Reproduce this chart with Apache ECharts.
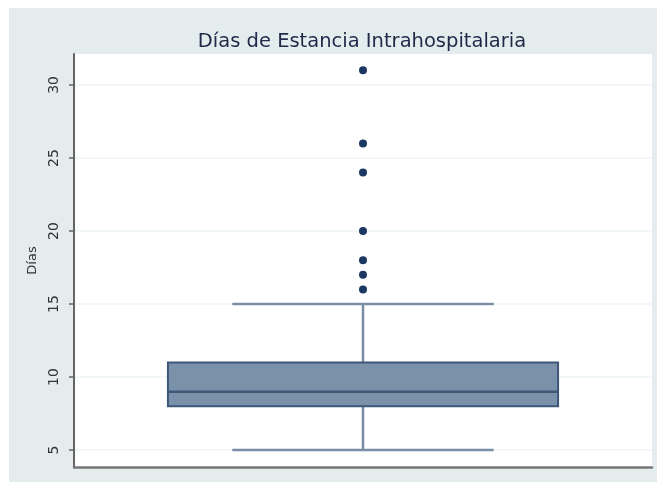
<!DOCTYPE html>
<html>
<head>
<meta charset="utf-8">
<script src="https://cdn.jsdelivr.net/npm/echarts@6/dist/echarts.min.js"></script>
<style>
  html, body { margin: 0; padding: 0; background: #fff; }
  #main { width: 657px; height: 482px; }
</style>
</head>
<body>
<div id="main"></div>
<script>
const categories = ["Días"];
const whiskerLow = [5];
const q1 = [8];
const median = [9];
const q3 = [11];
const whiskerHigh = [15];
const outliers = [31, 26, 24, 20, 18, 17, 16];
const yTicks = [5, 10, 15, 20, 25, 30];

const boxFill = "#7b91a9";
const boxLine = "#3d5778";
const whiskerColor = "#7a8fa7";
const dotColor = "#1a3862";

const boxData = categories.map((c, i) => [i, whiskerLow[i], q1[i], median[i], q3[i], whiskerHigh[i]]);
const outlierData = outliers.map((v) => [0, v]);

var chartDom = document.getElementById("main");
var myChart = echarts.init(chartDom);

const option = {
  backgroundColor: "#ffffff",
  animation: false,
  graphic: [
    {
      type: "rect",
      left: 9,
      top: 8,
      shape: { width: 648, height: 474 },
      style: { fill: "#e4ecee" },
      z: -10,
    },
  ],
  title: {
    text: "Días de Estancia Intrahospitalaria",
    left: 357,
    textAlign: "center",
    top: 27,
    textStyle: {
      fontFamily: "DejaVu Sans",
      fontSize: 19.5,
      fontWeight: "normal",
      color: "#1e2a48",
    },
  },
  grid: {
    left: 74,
    top: 54,
    right: 5,
    bottom: 15,
    show: true,
    backgroundColor: "#ffffff",
    borderWidth: 0,
  },
  xAxis: {
    type: "category",
    data: categories,
    axisLine: { show: true, lineStyle: { color: "#777777", width: 2.5 } },
    axisTick: { show: false },
    axisLabel: { show: false },
    splitLine: { show: false },
  },
  yAxis: {
    type: "value",
    min: 3.84,
    max: 32.12,
    name: "Días",
    nameLocation: "middle",
    nameGap: 35,
    nameTextStyle: { fontFamily: "DejaVu Sans", fontSize: 13, color: "#333" },
    axisLine: { show: true, lineStyle: { color: "#666666", width: 2 } },
    axisTick: { show: true, length: 5, customValues: yTicks, lineStyle: { color: "#666666", width: 1.5 } },
    axisLabel: {
      customValues: yTicks,
      rotate: 90,
      margin: 13,
      fontFamily: "DejaVu Sans",
      fontSize: 14,
      color: "#333333",
    },
    splitLine: { show: true, lineStyle: { color: "#eef4f4", width: 1.5 } },
  },
  series: [
    {
      type: "custom",
      data: boxData,
      renderItem: function (params, api) {
        const x = api.value(0);
        const band = api.size([1, 0])[0];
        const half = band * 0.3375;
        const capHalf = half * 0.67;
        const c = api.coord([x, api.value(1)]);
        const pLow = c;
        const pQ1 = api.coord([x, api.value(2)]);
        const pMed = api.coord([x, api.value(3)]);
        const pQ3 = api.coord([x, api.value(4)]);
        const pHigh = api.coord([x, api.value(5)]);
        const cx = c[0];
        const wStyle = { stroke: whiskerColor, lineWidth: 2.5 };
        return {
          type: "group",
          children: [
            { type: "line", shape: { x1: cx, y1: pLow[1], x2: cx, y2: pQ1[1] }, style: wStyle },
            { type: "line", shape: { x1: cx, y1: pQ3[1], x2: cx, y2: pHigh[1] }, style: wStyle },
            { type: "line", shape: { x1: cx - capHalf, y1: pLow[1], x2: cx + capHalf, y2: pLow[1] }, style: wStyle },
            { type: "line", shape: { x1: cx - capHalf, y1: pHigh[1], x2: cx + capHalf, y2: pHigh[1] }, style: wStyle },
            {
              type: "rect",
              shape: { x: cx - half, y: pQ3[1], width: half * 2, height: pQ1[1] - pQ3[1] },
              style: { fill: boxFill, stroke: boxLine, lineWidth: 2 },
            },
            { type: "line", shape: { x1: cx - half, y1: pMed[1], x2: cx + half, y2: pMed[1] }, style: { stroke: boxLine, lineWidth: 2.5 } },
          ],
        };
      },
      z: 3,
    },
    {
      type: "scatter",
      data: outlierData,
      symbol: "circle",
      symbolSize: 8,
      itemStyle: { color: dotColor, opacity: 1 },
      z: 4,
    },
  ],
};

option && myChart.setOption(option);
</script>
</body>
</html>
